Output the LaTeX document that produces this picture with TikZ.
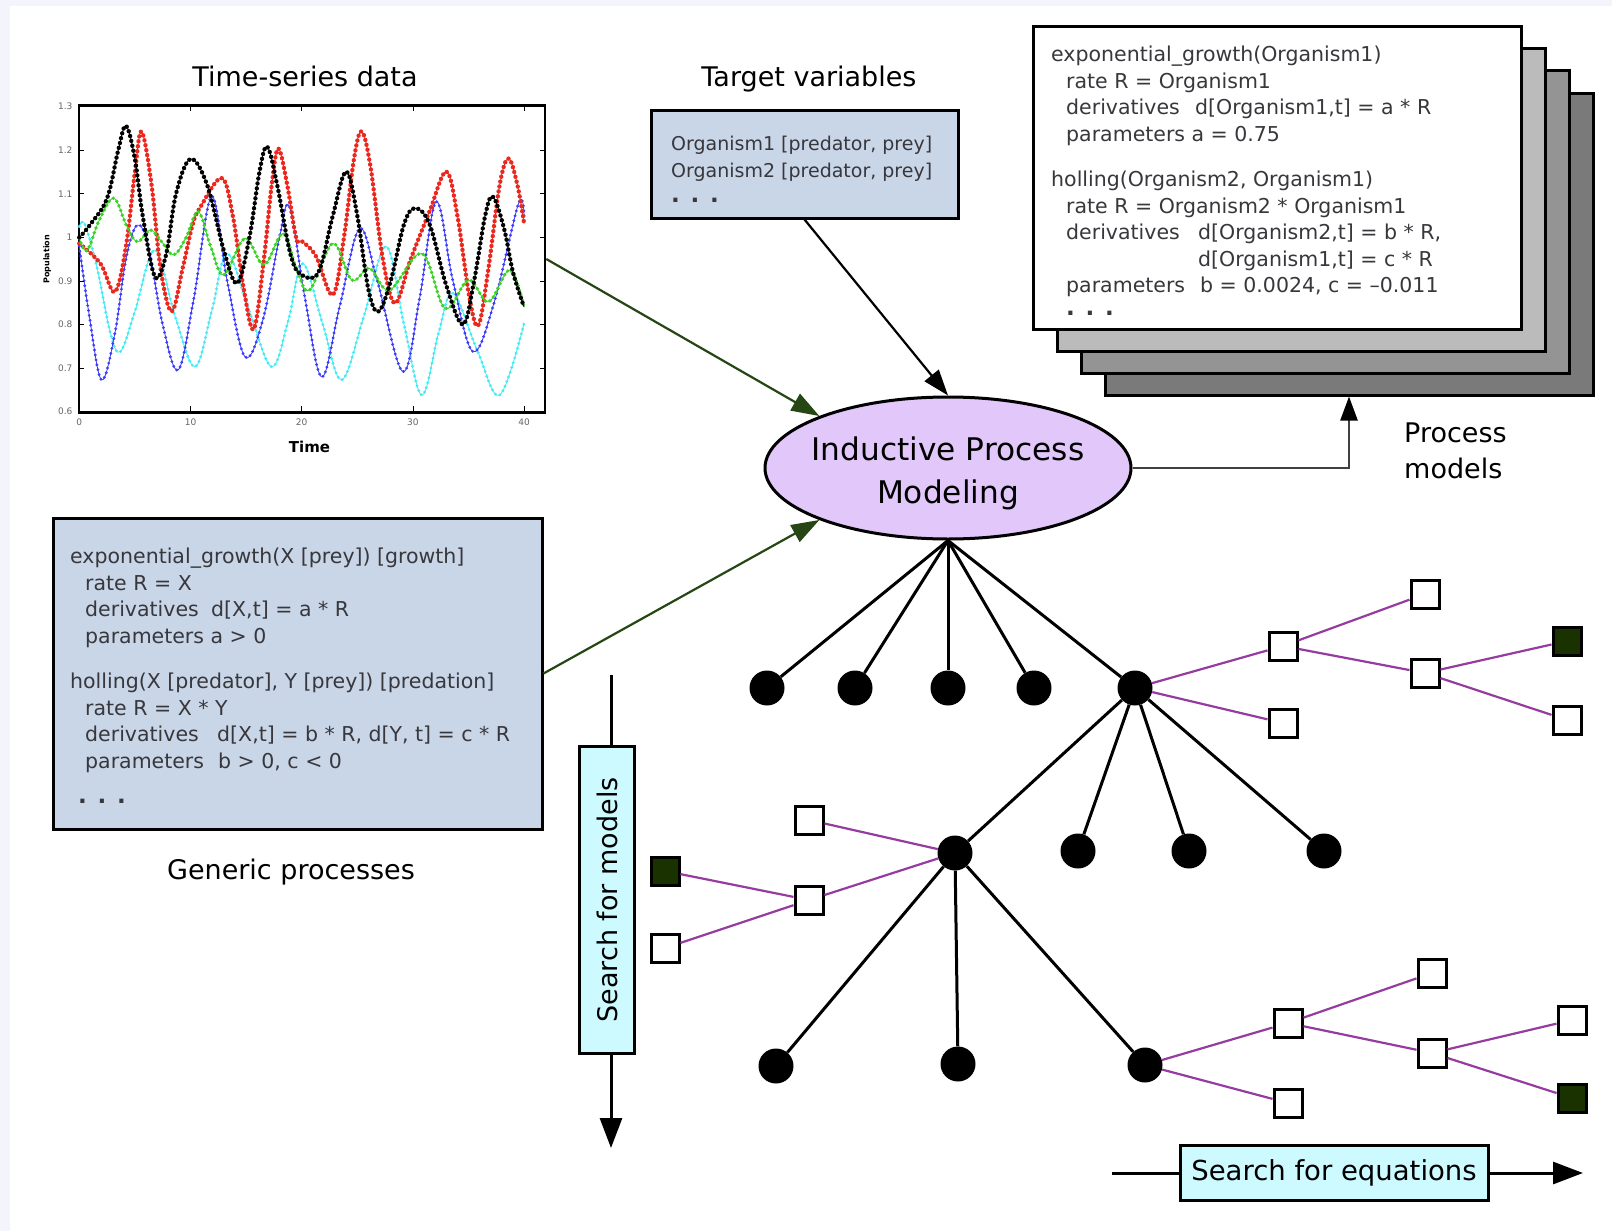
\documentclass[tikz,border=0pt]{standalone}
\usepackage{fontspec}
\setmainfont{DejaVu Sans}
\usetikzlibrary{shapes.geometric,arrows.meta,positioning}

\definecolor{bgtint}{RGB}{244,244,253}
\definecolor{procblue}{RGB}{201,214,232}
\definecolor{ipmfill}{RGB}{226,200,250}
\definecolor{searchfill}{RGB}{204,250,255}
\definecolor{feedgreen}{RGB}{38,70,20}
\definecolor{eqpurple}{RGB}{150,60,160}
\definecolor{goalgreen}{RGB}{25,50,0}
\definecolor{stackA}{RGB}{187,187,187}
\definecolor{stackB}{RGB}{148,148,148}
\definecolor{stackC}{RGB}{122,122,122}
\definecolor{codegray}{RGB}{55,55,60}
\definecolor{serred}{RGB}{235,40,30}
\definecolor{sergreen}{RGB}{60,210,40}
\definecolor{serblue}{RGB}{60,60,250}
\definecolor{sercyan}{RGB}{70,235,245}

\newcommand{\fld}[2]{\makebox[#1][l]{#2}}
\newcommand{\more}{{\bfseries\fontsize{23}{26}\selectfont . . .}}

\begin{document}
\begin{tikzpicture}[x=1pt, y=-1pt,
    codebox/.style={draw, line width=3pt, fill=procblue, inner sep=0pt},
    modelbox/.style={draw, line width=3pt, inner sep=0pt, minimum width=488pt, minimum height=302pt},
    searchbox/.style={draw, line width=3pt, fill=searchfill, inner sep=0pt, font=\fontsize{27}{32}\selectfont},
    code/.style={anchor=north west, inner sep=0pt, align=left, text=codegray},
    heading/.style={anchor=base, inner sep=0pt, font=\fontsize{27}{36}\selectfont},
    model/.style={circle, fill=black, inner sep=0pt, minimum size=35pt},
    eqn/.style={draw, line width=3pt, fill=white, inner sep=0pt, minimum size=28pt},
    best/.style={eqn, fill=goalgreen},
    branch/.style={line width=3pt},
    refine/.style={eqpurple, line width=2.2pt},
    feed/.style={feedgreen, line width=2.2pt, -{Triangle[length=28pt,width=19pt]}},
    flow/.style={line width=3pt},
    ticklbl/.style={inner sep=0pt, text=black!60, font=\fontsize{9}{10}\selectfont},
    series/.style 2 args={draw=#1, line width=0.8pt, postaction={draw=#1, line width=#2, dash pattern=on 0pt off 5pt, line cap=round}}
  ]

  \useasboundingbox (0,0) rectangle (1612,1231);
  \fill[bgtint] (0,0) rectangle (1612,1231);
  \fill[white] (10,6) rectangle (1612,1231);

  % time-series plot
  \node[heading] (tslabel) at (305,87) {Time-series data};
  \node[draw, line width=2.5pt, minimum width=466pt, minimum height=307pt, inner sep=0pt] (plot) at (312,259) {};
  \begin{scope}[shift={(79.3,673.1)}, x=11.12pt, y=435.7pt]
    \draw[series={sercyan}{3.2pt}] plot[smooth, tension=0.6] coordinates {(0,1.025) (0.5,1.03) (1.6,0.93) (2.8,0.78) (3.7,0.738) (5,0.83) (6.8,0.971) (8.6,0.82) (10.4,0.703) (11.9,0.83) (13.3,0.963) (15.3,0.83) (17.3,0.703) (18.8,0.81) (20.1,0.94) (21.9,0.8) (23.6,0.673) (25.6,0.82) (27.6,0.979) (29.2,0.8) (30.8,0.638) (32.3,0.78) (33.6,0.872) (35.8,0.74) (37.8,0.638) (40,0.803)};
    \draw[series={serblue}{3.2pt}] plot[smooth, tension=0.6] coordinates {(0,0.98) (0.9,0.82) (2.0,0.673) (3.2,0.78) (4.2,0.95) (5.2,1.028) (6.2,0.98) (7.5,0.8) (8.9,0.696) (10.3,0.86) (11.9,1.094) (13.3,0.9) (14.9,0.726) (16.5,0.81) (18,1.0) (18.9,1.07) (20.3,0.86) (21.8,0.68) (23.4,0.84) (25.2,1.02) (26.8,0.9) (29.1,0.692) (30.6,0.86) (32.1,1.082) (33.6,0.9) (35.4,0.738) (37.3,0.85) (39.5,1.078) (40,1.048)};
    \draw[series={serred}{4.4pt}] plot[smooth, tension=0.6] coordinates {(0,0.986) (1.9,0.94) (3.2,0.875) (4.2,0.98) (5,1.15) (5.6,1.243) (6.5,1.12) (7.3,0.93) (8.3,0.83) (9.3,0.93) (10.2,1.03) (10.9,1.07) (12.8,1.136) (13.8,1.05) (14.8,0.88) (15.7,0.79) (16.6,0.95) (17.3,1.12) (17.9,1.204) (18.7,1.12) (19.5,1.0) (20.1,0.99) (21.3,0.956) (22.8,0.868) (23.8,1.0) (24.7,1.18) (25.4,1.243) (26.2,1.16) (27.3,0.95) (28.4,0.849) (29.8,0.95) (31.5,1.06) (33,1.151) (34,1.05) (35.1,0.86) (35.9,0.799) (36.8,0.93) (37.8,1.12) (38.6,1.181) (39.4,1.12) (40,1.032)};
    \draw[series={sergreen}{3.8pt}] plot[smooth, tension=0.6] coordinates {(0,0.998) (0.7,0.97) (1.8,1.04) (3.1,1.09) (4.2,1.03) (5.2,0.99) (6.4,1.017) (7.4,0.99) (8.5,0.96) (9.6,1.0) (10.7,1.059) (11.8,0.98) (13,0.914) (14.9,0.998) (16.6,0.937) (18.3,1.009) (19.5,0.93) (20.7,0.879) (22.8,0.986) (24.5,0.902) (26.1,0.929) (27.9,0.879) (30.8,0.963) (32.9,0.837) (35,0.902) (36.8,0.852) (38.7,0.925) (40,0.84)};
    \draw[series={black}{4.4pt}] plot[smooth, tension=0.6] coordinates {(0,1.00) (1,1.03) (2.5,1.09) (3.5,1.2) (4.2,1.256) (5,1.18) (5.7,1.05) (6.8,0.91) (7.8,0.96) (8.7,1.1) (10,1.18) (11.5,1.12) (13,0.97) (14.2,0.895) (15.3,1.0) (16.2,1.15) (16.9,1.208) (17.8,1.12) (19,0.96) (20,0.914) (21.5,0.92) (22.8,1.05) (24,1.151) (25,1.05) (26,0.88) (26.9,0.83) (28,0.9) (29.2,1.03) (30.2,1.067) (31.5,1.03) (33,0.89) (34.5,0.80) (35.5,0.9) (36.5,1.05) (37.2,1.093) (38.2,1.02) (39,0.92) (40,0.84)};
    \foreach \v [count=\k] in {0.6,0.7,0.8,0.9,1,1.1,1.2,1.3} {
      \draw[line width=0.8pt] (0,\v) -- ++(0.45,0);
      \draw[line width=0.8pt] (41.9,\v) -- ++(-0.45,0);
      \node[ticklbl, anchor=east] (yt\k) at (-0.6,\v) {\v};
    }
    \foreach \t in {0,10,20,30,40} {
      \draw[line width=0.8pt] (\t,0.6) -- ++(0,0.012);
      \draw[line width=0.8pt] (\t,1.303) -- ++(0,-0.012);
      \node[ticklbl, anchor=north] (xt\t) at (\t,0.583) {\t};
    }
    \node[font=\bfseries\fontsize{15}{18}\selectfont, inner sep=0pt] (tlabel) at (20.7,0.52) {Time};
    \node[font=\bfseries\fontsize{8}{9}\selectfont, inner sep=0pt, rotate=90] (plabel) at (-2.9,0.95) {Population};
  \end{scope}

  % target variables
  \node[heading] (tvlabel) at (809,87) {Target variables};
  \node[codebox, minimum width=307pt, minimum height=108pt] (target) at (804.5,164) {};
  \node[code, font=\fontsize{19}{27}\selectfont] (targettext) at (671,136) {Organism1 [predator, prey]\\Organism2 [predator, prey]\\[-2pt]\more};

  % generic processes
  \node[codebox, minimum width=489pt, minimum height=311pt] (generic) at (297.5,673.5) {};
  \node[code, font=\fontsize{20.5}{26.5}\selectfont] (generictext) at (70,548) {exponential\_growth(X [prey]) [growth]\\
    \hspace*{15pt}rate R = X\\
    \hspace*{15pt}\fld{126pt}{derivatives}d[X,t] = a * R\\
    \hspace*{15pt}parameters a > 0\\[19pt]
    holling(X [predator], Y [prey]) [predation]\\
    \hspace*{15pt}rate R = X * Y\\
    \hspace*{15pt}\fld{132pt}{derivatives}d[X,t] = b * R, d[Y, t] = c * R\\
    \hspace*{15pt}\fld{133pt}{parameters}b > 0, c < 0\\[9pt]
    \hspace*{8pt}\more};
  \node[heading] (gplabel) at (291,879) {Generic processes};

  % process models
  \node[modelbox, fill=stackC] (model3) at (1349,244) {};
  \node[modelbox, fill=stackB] (model2) at (1325,222) {};
  \node[modelbox, fill=stackA] (model1) at (1301,200) {};
  \node[modelbox, fill=white] (model0) at (1277,178) {};
  \node[code, font=\fontsize{20.5}{26.5}\selectfont] (modeltext) at (1051,46) {exponential\_growth(Organism1)\\
    \hspace*{15pt}rate R = Organism1\\
    \hspace*{15pt}\fld{129pt}{derivatives}d[Organism1,t] = a * R\\
    \hspace*{15pt}parameters a = 0.75\\[19pt]
    holling(Organism2, Organism1)\\
    \hspace*{15pt}rate R = Organism2 * Organism1\\
    \hspace*{15pt}\fld{132pt}{derivatives}d[Organism2,t] = b * R,\\
    \hspace*{15pt}\fld{132pt}{}d[Organism1,t] = c * R\\
    \hspace*{15pt}\fld{134pt}{parameters}b = 0.0024, c = –0.011\\[-4pt]
    \hspace*{15pt}\more};
  \node[heading, anchor=north west, align=left] (pmlabel) at (1404,423) {Process\\models};

  % inductive process modeling
  \node[ellipse, draw, line width=3pt, fill=ipmfill, minimum width=366pt, minimum height=142pt, inner sep=0pt] (ipm) at (948,468) {};
  \node[font=\fontsize{31.2}{43}\selectfont, align=center, inner sep=0pt] (ipmtext) at (948,473) {Inductive Process\\Modeling};

  \draw[feed] (plot.east) -- (ipm.158);
  \draw[feed] (generic.east) -- (ipm.202);
  \draw[line width=2.2pt, -{Triangle[length=26pt,width=18pt]}] (target.south) -- (ipm.north);
  \draw[black!75, line width=2.5pt, -{Triangle[length=24pt,width=17pt,color=black]}] (ipm.east) -| (model3.south);

  % search tree over model structures
  \node[model] (m1) at (767,688) {};
  \node[model] (m2) at (855,688) {};
  \node[model] (m3) at (948,688) {};
  \node[model] (m4) at (1034,688) {};
  \node[model] (m5) at (1135,688) {};
  \node[model] (m51) at (955,853) {};
  \node[model] (m52) at (1078,851) {};
  \node[model] (m53) at (1189,851) {};
  \node[model] (m54) at (1324,851) {};
  \node[model] (m511) at (776,1066) {};
  \node[model] (m512) at (958,1064) {};
  \node[model] (m513) at (1145,1065) {};

  \foreach \m in {m1,m2,m3,m4,m5} \draw[branch] (ipm.south) -- (\m);
  \foreach \m in {m51,m52,m53,m54} \draw[branch] (m5) -- (\m);
  \foreach \m in {m511,m512,m513} \draw[branch] (m51) -- (\m);

  % equation search
  \node[eqn] (e1) at (1283,646) {};
  \node[eqn] (e2) at (1283,723) {};
  \node[eqn] (e11) at (1425,594) {};
  \node[eqn] (e12) at (1425,673) {};
  \node[best] (e121) at (1567,641) {};
  \node[eqn] (e122) at (1567,720) {};
  \node[eqn] (l1) at (809,820) {};
  \node[eqn] (l2) at (809,900) {};
  \node[best] (l21) at (665,871) {};
  \node[eqn] (l22) at (665,948) {};
  \node[eqn] (b1) at (1288,1023) {};
  \node[eqn] (b2) at (1288,1103) {};
  \node[eqn] (b11) at (1432,973) {};
  \node[eqn] (b12) at (1432,1053) {};
  \node[eqn] (b121) at (1572,1020) {};
  \node[best] (b122) at (1572,1098) {};

  \foreach \a/\b in {m5/e1, m5/e2, e1/e11, e1/e12, e12/e121, e12/e122, m51/l1, m51/l2, l2/l21, l2/l22, m513/b1, m513/b2, b1/b11, b1/b12, b12/b121, b12/b122}
    \draw[refine] (\a) -- (\b);

  % search directions
  \node[searchbox, rotate=90, minimum width=307pt, minimum height=55pt] (smodels) at (607,900) {Search for models};
  \coordinate (smin) at (611,675);
  \coordinate (smout) at (611,1148);
  \draw[flow] (smin) -- (smin |- smodels.east);
  \draw[flow, -{Triangle[length=30pt,width=22pt]}] (smin |- smodels.west) -- (smout);

  \node[searchbox, minimum width=308pt, minimum height=55pt, font=\fontsize{27.5}{32}\selectfont] (sequations) at (1334,1173) {Search for equations};
  \coordinate (seqin) at (1112,1173);
  \coordinate (seqout) at (1583,1173);
  \draw[flow] (seqin) -- (sequations);
  \draw[flow, -{Triangle[length=30pt,width=22pt]}] (sequations) -- (seqout);

\end{tikzpicture}
\end{document}
